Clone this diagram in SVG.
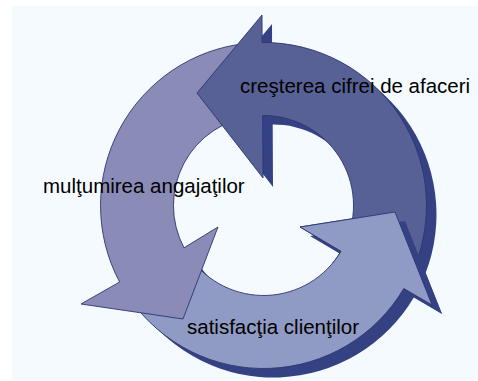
<svg xmlns="http://www.w3.org/2000/svg" xmlns:xlink="http://www.w3.org/1999/xlink" width="478" height="381" viewBox="0 0 478 381">
<defs>
<style>
.bg{fill:#F5FAFE}
.shadow{fill:#344283}
.dark{fill:#576196}
.light{fill:#8F9BC4}
.mid{fill:#8A8CB7}
.edge{stroke:#2C3670;stroke-width:0.9;stroke-linejoin:miter}
.label{font-family:"Liberation Sans",Arial,sans-serif;font-size:20.5px;fill:#000000}
</style>
<path id="pDark" d="M262,15 L197,93 L263,178 L262.7,115.5 A90,90 0 0 1 345.1,243.5 L411.2,274.4 A163,163 0 0 0 262.1,42.5 Z"/>
<path id="pLight" d="M395,212 L300,227 L341,251.3 A90,90 0 0 1 189.8,257.1 L130,299 A163,163 0 0 0 403.8,288.5 L432,305 Z"/>
<path id="pMid" d="M183,319 L218,227 L184,247.8 A90,90 0 0 1 254.1,116 L246.5,43.4 A163,163 0 0 0 119.6,282 L81,304 Z"/>
<clipPath id="headClip"><polygon points="263.5,205.5 562,179 620,300 493,398"/></clipPath>
<clipPath id="shadowClip"><polygon points="263.5,205.5 562,179 620,300 526,365"/></clipPath>
</defs>
<rect class="bg" x="12" y="6" width="466" height="374"/>
<g id="node-satisfactia">
<use href="#pLight" xlink:href="#pLight" class="shadow" transform="translate(10,9)"/>
<use href="#pLight" xlink:href="#pLight" class="light edge"/>
<text class="label" x="187" y="334">satisfacţia clienţilor</text>
</g>
<g id="node-multumirea">
<use href="#pMid" xlink:href="#pMid" class="mid edge"/>
<text class="label" x="43" y="193">mulţumirea angajaţilor</text>
</g>
<g id="node-cresterea">
<use href="#pDark" xlink:href="#pDark" class="shadow" transform="translate(10,9)"/>
<use href="#pDark" xlink:href="#pDark" class="dark edge"/>
<text class="label" x="240" y="93">creşterea cifrei de afaceri</text>
</g>
<g id="connectors">
<g clip-path="url(#shadowClip)">
<use href="#pLight" xlink:href="#pLight" class="shadow" transform="translate(10,9)"/>
</g>
<g clip-path="url(#headClip)">
<use href="#pLight" xlink:href="#pLight" class="light edge"/>
</g>
</g>
</svg>
